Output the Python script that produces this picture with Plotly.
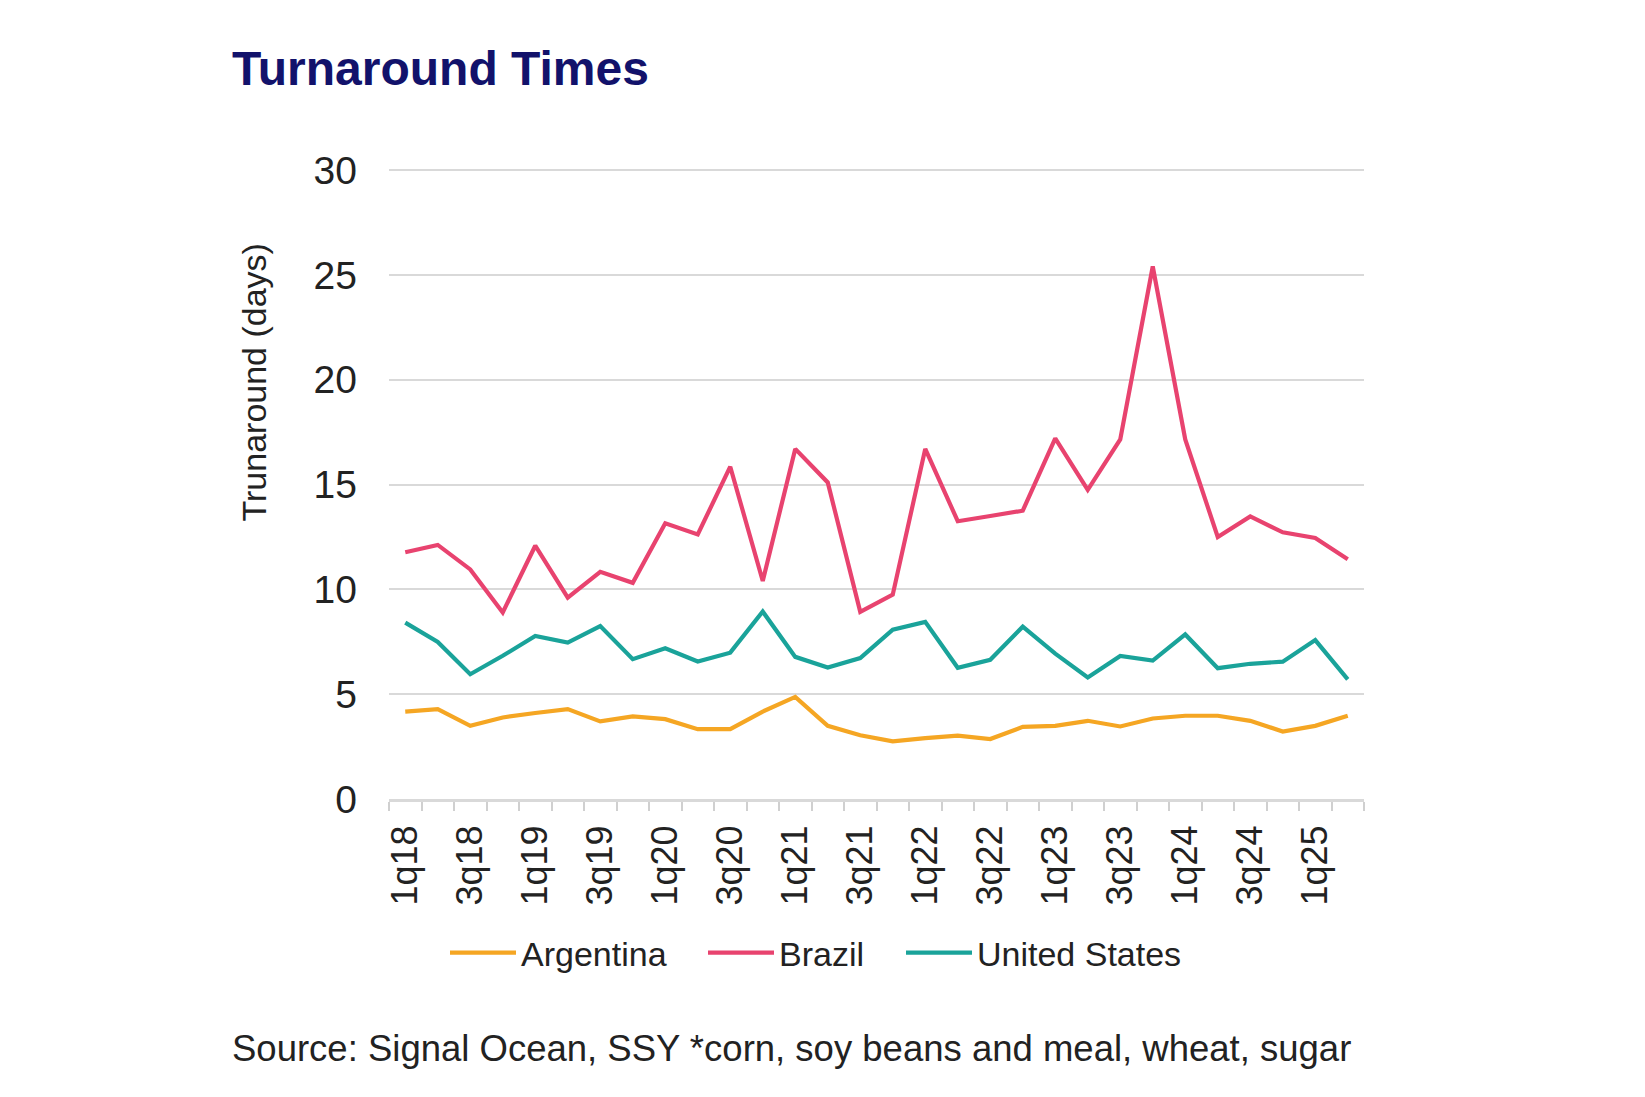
import plotly.graph_objects as go

quarters = [f"{q}q{y}" for y in range(18, 26) for q in range(1, 5)][:30]

argentina = [4.17, 4.29, 3.49, 3.89, 4.10, 4.29, 3.70, 3.94, 3.81, 3.33,
             3.33, 4.17, 4.87, 3.49, 3.04, 2.75, 2.90, 3.02, 2.86, 3.44,
             3.49, 3.73, 3.46, 3.84, 3.97, 3.97, 3.73, 3.22, 3.49, 3.97]
brazil = [11.77, 12.12, 10.95, 8.90, 12.08, 9.61, 10.84, 10.31, 13.15, 12.62,
          15.85, 10.40, 16.70, 15.10, 8.93, 9.75, 16.70, 13.25, 13.50, 13.75,
          17.20, 14.75, 17.15, 25.40, 17.15, 12.50, 13.48, 12.72, 12.45, 11.43]
united_states = [8.41, 7.49, 5.95, 6.83, 7.78, 7.46, 8.25, 6.67, 7.19, 6.56,
                 6.98, 8.94, 6.78, 6.27, 6.72, 8.08, 8.45, 6.26, 6.64, 8.22,
                 6.93, 5.80, 6.82, 6.60, 7.85, 6.24, 6.45, 6.55, 7.58, 5.71]

tick_labels = [q if i % 2 == 0 else "" for i, q in enumerate(quarters)]

series = [
    ("Argentina", argentina, "#F5A623", "legend"),
    ("Brazil", brazil, "#E8436F", "legend2"),
    ("United States", united_states, "#1AA39A", "legend3"),
]

FONT = "Liberation Sans"
TEXT = "#222222"

W, H = 1645, 1097
L, R, T, B = 381, 289, 161, 306
PW, PH = W - L - R, H - T - B


def px(xa):
    return (xa - L) / PW


def py(ya):
    return (H - B - ya) / PH


fig = go.Figure()
for name, vals, color, leg in series:
    fig.add_trace(go.Scatter(
        x=quarters, y=vals, name=name, mode="lines",
        line=dict(color=color, width=4.2),
        legend=leg,
    ))

leg_common = dict(
    orientation="h", yanchor="middle", xanchor="left",
    font=dict(family=FONT, size=34, color=TEXT),
    itemwidth=66, bgcolor="rgba(0,0,0,0)",
)
leg_y = py(945)

fig.update_layout(
    width=W, height=H,
    paper_bgcolor="white", plot_bgcolor="white",
    margin=dict(l=L, r=R, t=T, b=B, autoexpand=False),
    font=dict(family=FONT, color=TEXT),
    title=dict(
        text="<b>Turnaround Times</b>",
        font=dict(family=FONT, size=48, color="#12126B"),
        xref="container", yref="container",
        x=224 / W, y=1 - 60 / H,
        xanchor="left", yanchor="middle",
    ),
    showlegend=True,
    legend=dict(x=px(453 - 16), y=leg_y, **leg_common),
    legend2=dict(x=px(712 - 17), y=leg_y, **leg_common),
    legend3=dict(x=px(911 - 18), y=leg_y, **leg_common),
)

fig.update_xaxes(
    type="category",
    categoryorder="array", categoryarray=quarters,
    tickmode="array", tickvals=quarters, ticktext=tick_labels,
    tickson="boundaries",
    ticks="outside", ticklen=9, tickwidth=2, tickcolor="#D0D0D0",
    ticklabelstandoff=9,
    tickangle=-90,
    tickfont=dict(family=FONT, size=36, color=TEXT),
    showline=True, linecolor="#D9D9D9", linewidth=3,
    showgrid=False, zeroline=False,
    range=[-0.5, 29.5],
)

fig.update_yaxes(
    range=[0, 30.05], dtick=5, tick0=0,
    showgrid=True, gridcolor="#D9D9D9", gridwidth=2,
    zeroline=False, showline=False, ticks="",
    ticklabelstandoff=31,
    tickfont=dict(family=FONT, size=39, color=TEXT),
)

fig.add_annotation(
    text="Trunaround (days)", textangle=-90,
    xref="paper", yref="paper",
    x=px(245.5), y=py(375),
    xanchor="center", yanchor="middle", showarrow=False,
    font=dict(family=FONT, size=34, color=TEXT),
)

fig.add_annotation(
    text="Source: Signal Ocean, SSY *corn, soy beans and meal, wheat, sugar",
    xref="paper", yref="paper",
    x=px(222), y=py(1040),
    xanchor="left", yanchor="middle", showarrow=False,
    font=dict(family=FONT, size=36.5, color=TEXT),
)

fig.write_html("out.html")
